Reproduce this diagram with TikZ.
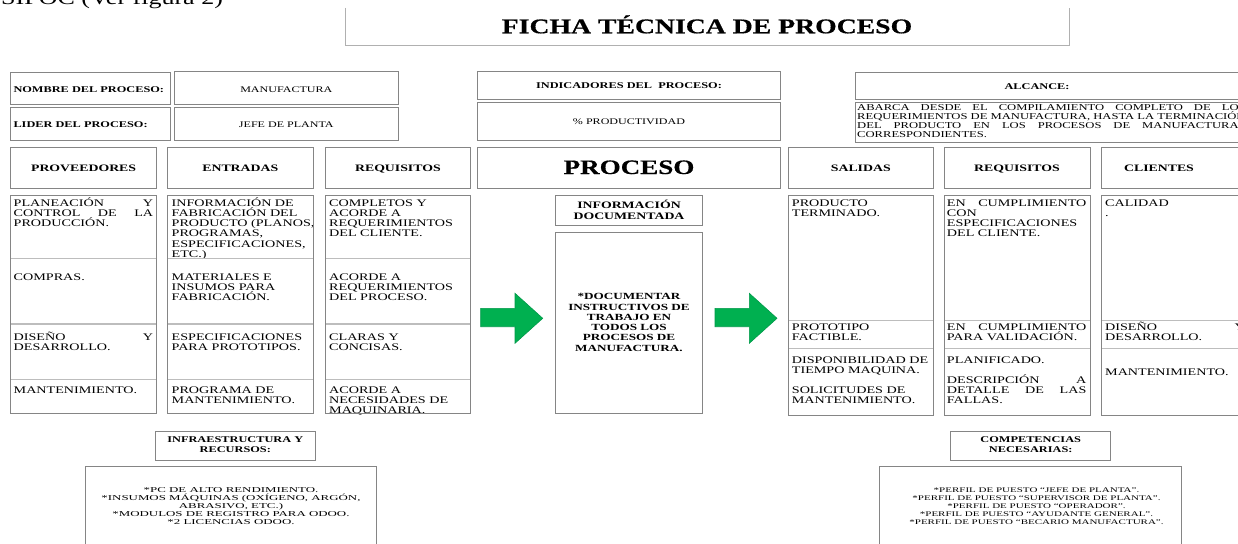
\documentclass[tikz,border=0pt]{standalone}
\usepackage{fontspec}
\setmainfont[FakeStretch=1.4]{Liberation Serif}
\newfontfamily\bigfont[FakeStretch=1.32]{Liberation Serif}
\newfontfamily\bigbold[FakeStretch=1.32,FakeBold=0.5]{Liberation Serif}
\newfontfamily\infrafont[FakeStretch=1.72]{Liberation Serif}
\newfontfamily\compfont[FakeStretch=1.55]{Liberation Serif}
\definecolor{bordergray}{HTML}{858585}
\definecolor{sepgray}{HTML}{BDBDBD}
\definecolor{titlegray}{HTML}{B0B0B0}
\definecolor{arrowgreen}{HTML}{00B050}
\definecolor{arrowedge}{HTML}{00994A}
\newlength\cw
\setlength\cw{139.5pt}
\newcommand\Lj[1]{\hbox to \cw{#1}}
\newcommand\Ln[1]{\hbox{#1}}
\newcommand\Lc[1]{\hbox to \cw{\hfil#1\hfil}}
\newcommand\Cell[2]{\vtop{\baselineskip=#1\lineskiplimit=-100pt\lineskip=0pt #2}}
\newcommand\rtext{\fontsize{10.1}{10.3}\selectfont}
\newcommand\btext{\fontsize{9.85}{10.3}\selectfont\bfseries}
\newcommand\sbtext{\fontsize{8.8}{9.3}\selectfont\bfseries}
\newcommand\srtext{\fontsize{8.6}{9}\selectfont}
\newcommand\alctext{\fontsize{9}{9}\selectfont}
\newcommand\infratext{\infrafont\fontsize{7.5}{7.9}\selectfont}
\newcommand\comptext{\compfont\fontsize{7.1}{7.9}\selectfont}
\begin{document}
\begin{tikzpicture}[x=1pt,y=-1pt,
  box/.style={draw=bordergray,line width=0.9pt},
  sepline/.style={draw=sepgray,line width=1.4pt},
  titleline/.style={draw=titlegray,line width=1pt},
  txt/.style={inner sep=0pt,anchor=base west},
  ctxt/.style={inner sep=0pt,anchor=base},
  blockarrow/.style={fill=arrowgreen,draw=arrowedge,line width=0.6pt}]
\fill[white] (0,0) rectangle (1238,543);
\useasboundingbox (0,0) rectangle (1238,543);

% ---------- top ----------
\node[txt] (sipoc) at (1,4.5) {\bigfont\fontsize{19.7}{22}\selectfont SIPOC (Ver figura 2)};
\node[ctxt] (title) at (707,33.3) {\bigbold\bfseries\fontsize{21}{24}\selectfont FICHA TÉCNICA DE PROCESO};

\node[txt] (nombre) at (13.3,92.3) {\sbtext NOMBRE DEL PROCESO:};
\node[txt] (lider) at (13.3,127.8) {\sbtext LIDER DEL PROCESO:};
\node[ctxt] (manuf) at (286.3,92) {\srtext MANUFACTURA};
\node[ctxt] (jefe) at (286.3,127.8) {\srtext JEFE DE PLANTA};
\node[ctxt] (indic) at (629,88.8) {\sbtext INDICADORES DEL\ \ PROCESO:};
\node[ctxt] (prod) at (629,124.5) {\srtext \% PRODUCTIVIDAD};
\node[ctxt] (alc) at (1037,89) {\sbtext ALCANCE:};
\node[txt] (alcbody) at (857,110.5) {\alctext\settowidth\cw{REQUERIMIENTOS DE MANUFACTURA, HASTA LA TERMINACIÓN}%
  \Cell{9pt}{\Lj{ABARCA DESDE EL COMPILAMIENTO COMPLETO DE LOS}\Lj{REQUERIMIENTOS DE MANUFACTURA, HASTA LA TERMINACIÓN}\Lj{DEL PRODUCTO EN LOS PROCESOS DE MANUFACTURAS}\Ln{CORRESPONDIENTES.}}};

% ---------- headers ----------
\node[ctxt] (hprov) at (83.6,171) {\btext PROVEEDORES};
\node[ctxt] (hent) at (240.3,171) {\btext ENTRADAS};
\node[ctxt] (hreq) at (397.9,171) {\btext REQUISITOS};
\node[ctxt] (hproc) at (629,174) {\bigbold\bfseries\fontsize{20.5}{24}\selectfont PROCESO};
\node[ctxt] (hsal) at (860.8,171) {\btext SALIDAS};
\node[ctxt] (hreq2) at (1017,171) {\btext REQUISITOS};
\node[ctxt] (hcli) at (1159,171) {\btext CLIENTES};

% ---------- proveedores ----------
\node[txt] (prov1) at (13.5,206) {\rtext\Cell{10.3pt}{\Lj{PLANEACIÓN Y}\Lj{CONTROL DE LA}\Ln{PRODUCCIÓN.}}};
\node[txt] (prov2) at (13.5,280) {\rtext\Cell{10.3pt}{\Ln{COMPRAS.}}};
\node[txt] (prov3) at (13.5,340) {\rtext\Cell{10.3pt}{\Lj{DISEÑO Y}\Ln{DESARROLLO.}}};
\node[txt] (prov4) at (13.5,393.2) {\rtext\Cell{10.3pt}{\Ln{MANTENIMIENTO.}}};

% ---------- entradas ----------
\node[txt] (ent1) at (171.5,206) {\rtext\Cell{10.3pt}{\Ln{INFORMACIÓN DE}\Ln{FABRICACIÓN DEL}\Ln{PRODUCTO (PLANOS,}\Ln{PROGRAMAS,}\Ln{ESPECIFICACIONES,}\Ln{ETC.)}}};
\node[txt] (ent2) at (171.5,280) {\rtext\Cell{10.3pt}{\Ln{MATERIALES E}\Ln{INSUMOS PARA}\Ln{FABRICACIÓN.}}};
\node[txt] (ent3) at (171.5,340) {\rtext\Cell{10.3pt}{\Ln{ESPECIFICACIONES}\Ln{PARA PROTOTIPOS.}}};
\node[txt] (ent4) at (171.5,393.2) {\rtext\Cell{10.3pt}{\Ln{PROGRAMA DE}\Ln{MANTENIMIENTO.}}};

% ---------- requisitos ----------
\node[txt] (req1) at (329,206) {\rtext\Cell{10.3pt}{\Ln{COMPLETOS Y}\Ln{ACORDE A}\Ln{REQUERIMIENTOS}\Ln{DEL CLIENTE.}}};
\node[txt] (req2) at (329,280) {\rtext\Cell{10.3pt}{\Ln{ACORDE A}\Ln{REQUERIMIENTOS}\Ln{DEL PROCESO.}}};
\node[txt] (req3) at (329,340) {\rtext\Cell{10.3pt}{\Ln{CLARAS Y}\Ln{CONCISAS.}}};
\node[txt] (req4) at (329,393.2) {\rtext\Cell{10.3pt}{\Ln{ACORDE A}\Ln{NECESIDADES DE}\Ln{MAQUINARIA.}}};

% ---------- proceso ----------
\node[ctxt] (infodoc) at (629,208) {\btext\cw=140pt\Cell{11pt}{\Lc{INFORMACIÓN}\Lc{DOCUMENTADA}}};
\node[ctxt] (proctext) at (629,299.7) {\btext\fontsize{9.4}{10.3}\selectfont\cw=140pt\Cell{10.3pt}{\Lc{*DOCUMENTAR}\Lc{INSTRUCTIVOS DE}\Lc{TRABAJO EN}\Lc{TODOS LOS}\Lc{PROCESOS DE}\Lc{MANUFACTURA.}}};

% ---------- salidas ----------
\node[txt] (sal1) at (791.7,206) {\rtext\Cell{10.3pt}{\Ln{PRODUCTO}\Ln{TERMINADO.}}};
\node[txt] (sal2) at (791.7,330) {\rtext\Cell{10.3pt}{\Ln{PROTOTIPO}\Ln{FACTIBLE.}}};
\node[txt] (sal3) at (791.7,363.2) {\rtext\Cell{10.3pt}{\Ln{DISPONIBILIDAD DE}\Ln{TIEMPO MAQUINA.}}};
\node[txt] (sal4) at (791.7,393.5) {\rtext\Cell{10.3pt}{\Ln{SOLICITUDES DE}\Ln{MANTENIMIENTO.}}};

% ---------- requisitos 2 ----------
\node[txt] (rq1) at (946.7,206) {\rtext\Cell{10.3pt}{\Lj{EN CUMPLIMIENTO}\Ln{CON}\Ln{ESPECIFICACIONES}\Ln{DEL CLIENTE.}}};
\node[txt] (rq2) at (946.7,330) {\rtext\Cell{10.3pt}{\Lj{EN CUMPLIMIENTO}\Ln{PARA VALIDACIÓN.}}};
\node[txt] (rq3) at (946.7,363.2) {\rtext\Cell{10.3pt}{\Ln{PLANIFICADO.}}};
\node[txt] (rq4) at (946.7,383.2) {\rtext\Cell{10.3pt}{\Lj{DESCRIPCIÓN A}\Lj{DETALLE DE LAS}\Ln{FALLAS.}}};

% ---------- clientes ----------
\node[txt] (cli1) at (1105,206) {\rtext\Cell{10.3pt}{\Ln{CALIDAD}\Ln{.}}};
\node[txt] (cli2) at (1105,330) {\rtext\Cell{10.3pt}{\Lj{DISEÑO Y}\Ln{DESARROLLO.}}};
\node[txt] (cli3) at (1105,375) {\rtext\Cell{10.3pt}{\Ln{MANTENIMIENTO.}}};

% ---------- bottom ----------
\node[ctxt] (infra) at (235.3,442.7) {\sbtext\cw=150pt\Cell{9.3pt}{\Lc{INFRAESTRUCTURA Y}\Lc{RECURSOS:}}};
\node[ctxt] (infralist) at (231,492.5) {\infratext\cw=290pt\Cell{7.9pt}{\Lc{*PC DE ALTO RENDIMIENTO.}\Lc{*INSUMOS MÁQUINAS (OXÍGENO, ARGÓN,}\Lc{ABRASIVO, ETC.)}\Lc{*MODULOS DE REGISTRO PARA ODOO.}\Lc{*2 LICENCIAS ODOO.}}};
\node[ctxt] (comp) at (1030.7,442.7) {\sbtext\cw=150pt\Cell{9.3pt}{\Lc{COMPETENCIAS}\Lc{NECESARIAS:}}};
\node[ctxt] (complist) at (1036.5,492.5) {\comptext\cw=300pt\Cell{7.9pt}{\Lc{*PERFIL DE PUESTO “JEFE DE PLANTA”.}\Lc{*PERFIL DE PUESTO “SUPERVISOR DE PLANTA”.}\Lc{*PERFIL DE PUESTO “OPERADOR”.}\Lc{*PERFIL DE PUESTO “AYUDANTE GENERAL”.}\Lc{*PERFIL DE PUESTO “BECARIO MANUFACTURA”.}}};

% ---------- lines and boxes ----------
\draw[titleline] (345,8) -- (345,46) -- (1069,46) -- (1069,8);

\draw[box] (10.7,72.3) rectangle (170,104.3);
\draw[box] (10.7,107.7) rectangle (170,140);
\draw[box] (174.3,71.7) rectangle (398.3,104.3);
\draw[box] (174.3,107.3) rectangle (398.3,140);
\draw[box] (477.3,71.7) rectangle (780.7,99.3);
\draw[box] (477.3,102.3) rectangle (780.7,140);
\draw[box] (855,72.3) rectangle (1250,99.3);
\draw[box] (855,102.3) rectangle (1250,142.3);

\foreach \xa/\xb in {10.7/156.5,167.3/313.3,325/470.7,477.3/780.7,788.3/933.3,944/1090,1101/1250}
  \draw[box] (\xa,147.3) rectangle (\xb,188.3);

\foreach \xa/\xb in {10.7/156.5,167.3/313.3,325/470.7}{
  \draw[sepline] (\xa,258.3) -- (\xb,258.3);
  \draw[sepline] (\xa,324) -- (\xb,324);
  \draw[sepline] (\xa,379.3) -- (\xb,379.3);
  \draw[box] (\xa,195) rectangle (\xb,413.3);
}
\foreach \xa/\xb in {788.3/933.3,944/1090,1101/1250}{
  \draw[sepline] (\xa,320.7) -- (\xb,320.7);
  \draw[sepline] (\xa,348.3) -- (\xb,348.3);
  \draw[box] (\xa,195) rectangle (\xb,415);
}

\draw[box] (555.7,195) rectangle (702.3,225.7);
\draw[box] (555.7,232.3) rectangle (702.3,413.3);

\draw[box] (155.7,431.7) rectangle (315,460);
\draw[box] (85,466.7) rectangle (376.7,560);
\draw[box] (950.7,431.7) rectangle (1110.7,460);
\draw[box] (879,466.7) rectangle (1181.7,560);

% ---------- block arrows ----------
\draw[blockarrow] (480.7,308.3) -- (515,308.3) -- (515,293.3) -- (542.7,318.3) -- (515,343.3) -- (515,326.7) -- (480.7,326.7) -- cycle;
\draw[blockarrow,xshift=234.3pt] (480.7,308.3) -- (515,308.3) -- (515,293.3) -- (542.7,318.3) -- (515,343.3) -- (515,326.7) -- (480.7,326.7) -- cycle;
\end{tikzpicture}
\end{document}
